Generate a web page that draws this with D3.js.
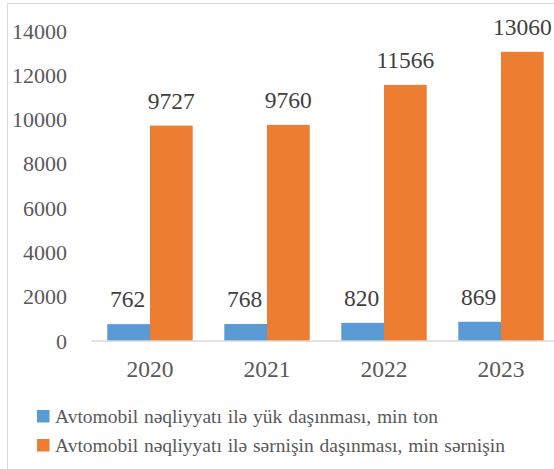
<!DOCTYPE html>
<html><head><meta charset="utf-8">
<script src="https://cdn.jsdelivr.net/npm/d3@7"></script>
</head>
<body style="margin:0">
<svg id="s" width="554" height="469"></svg>
<script>
const years = ["2020","2021","2022","2023"];
const cargo = [762, 768, 820, 869];
const passengers = [9727, 9760, 11566, 13060];
const seriesNames = ["Avtomobil nəqliyyatı ilə yük daşınması, min ton","Avtomobil nəqliyyatı ilə sərnişin daşınması, min sərnişin"];
const seriesColors = ["#5B9BD5","#ED7D31"];
const yTicks = [0,2000,4000,6000,8000,10000,12000,14000];
const fontStack = ["Liberation Serif","Times New Roman","Tinos"];
const FONT = fontStack.map(f=>`"${f}"`).join(", ") + ", serif";

const svg = d3.select("#s");
svg.append("rect").attr("x",7.5).attr("y",3.5).attr("width",600).attr("height",500)
  .attr("fill","#fff").attr("stroke","#d9d9d9").attr("stroke-width",1);

const y = d3.scaleLinear().domain([0,14000]).range([341,31]);
const x0 = d3.scaleBand().domain(years).range([91.5,559.5]).paddingInner(0.27).paddingOuter(0.135);
const series = [cargo, passengers];
const x1 = d3.scaleBand().domain([0,1]).range([0,x0.bandwidth()]);

// y tick labels
const ga = svg.append("g");
ga.selectAll("text").data(yTicks).join("text")
  .attr("x",67).attr("y",d=>y(d)+7.5).attr("text-anchor","end")
  .style("font-family",FONT).attr("font-size",22).attr("fill","#595959")
  .text(d=>d);

// bars
series.forEach((vals,si)=>{
  const g = svg.append("g");
  g.selectAll("rect").data(vals).join("rect")
    .attr("x",(d,i)=>x0(years[i])+x1(si))
    .attr("y",d=>y(d))
    .attr("width",x1.bandwidth())
    .attr("height",d=>y(0)-y(d))
    .attr("fill",seriesColors[si]);
  g.selectAll("text").data(vals).join("text")
    .attr("x",(d,i)=>x0(years[i])+x1(si)+x1.bandwidth()/2 - (si===0?1:0))
    .attr("y",d=>y(d)-17)
    .attr("text-anchor","middle")
    .style("font-family",FONT).attr("font-size",23.5).attr("fill","#404040")
    .text(d=>d);
});

// x axis
svg.append("line").attr("x1",x0.range()[0]).attr("x2",x0.range()[1]).attr("y1",y(0)).attr("y2",y(0))
  .attr("stroke","#d9d9d9").attr("stroke-width",1.5);
svg.append("g").selectAll("text").data(years).join("text")
  .attr("x",d=>x0(d)+x0.bandwidth()/2).attr("y",377).attr("text-anchor","middle")
  .style("font-family",FONT).attr("font-size",23.5).attr("fill","#595959").text(d=>d);

// legend
const leg = svg.append("g");
const legEnds = [438, 505];
seriesNames.forEach((n,i)=>{
  const base = 423 + i*29;
  leg.append("rect").attr("x",37).attr("y",base-13).attr("width",12.5).attr("height",12.5).attr("fill",seriesColors[i]);
  const t = leg.append("text").attr("x",55).attr("y",base).attr("font-size",19.5).attr("fill","#595959")
    .style("font-family",FONT).text(n);
  const w = t.node().getComputedTextLength();
  const gaps = n.split(" ").length - 1;
  const extra = Math.max(0, (legEnds[i] - 55 - w) / gaps);
  t.attr("word-spacing", extra);
});
</script>
</body></html>
